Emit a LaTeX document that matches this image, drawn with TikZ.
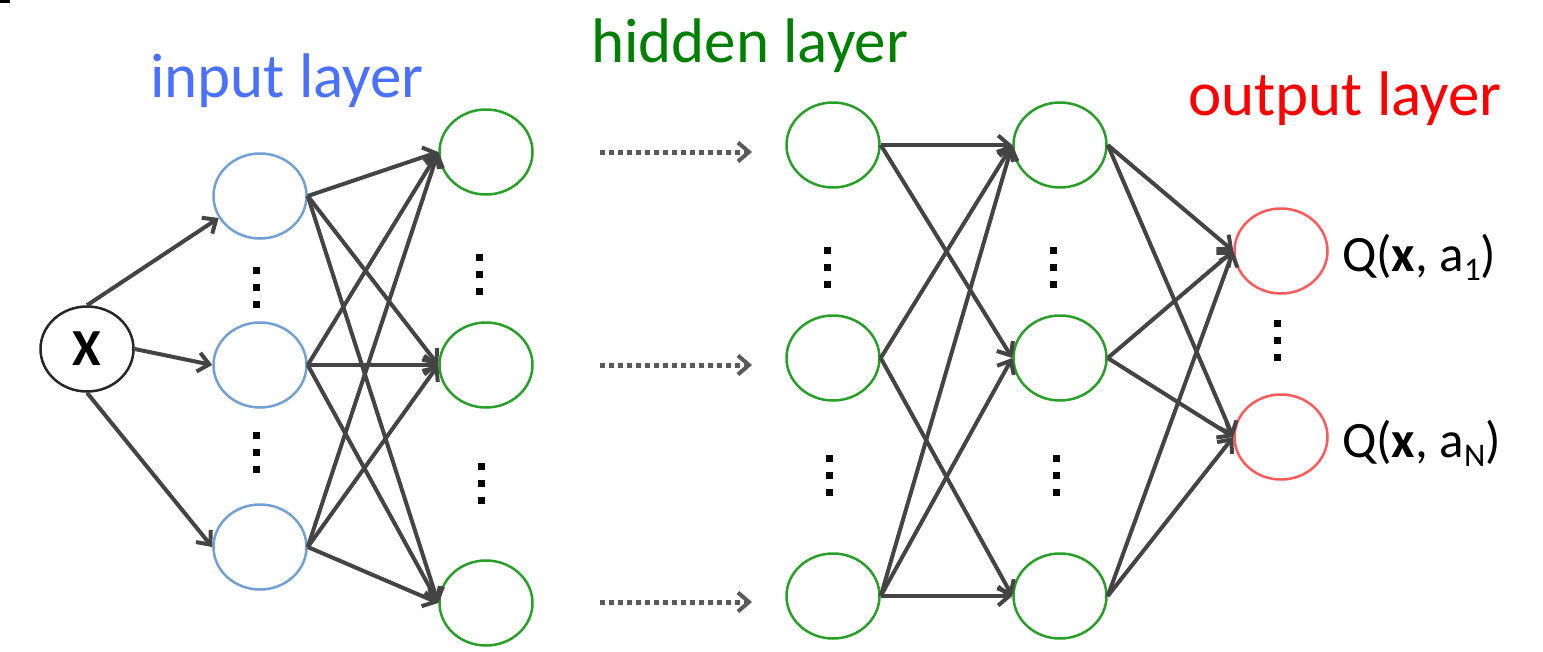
\documentclass[tikz,border=0pt]{standalone}
\usepackage{fontspec}
\setmainfont{Carlito}
\usetikzlibrary{shapes.geometric,arrows.meta}

\definecolor{inblue}{RGB}{112,160,214}
\definecolor{intext}{RGB}{74,112,255}
\definecolor{hidgreen}{RGB}{40,160,40}
\definecolor{hidtext}{RGB}{0,128,0}
\definecolor{outred}{RGB}{255,90,90}
\definecolor{outtext}{RGB}{255,0,0}
\definecolor{wire}{RGB}{68,68,68}
\definecolor{dotwire}{RGB}{90,90,90}

\tikzset{
  neuron/.style={ellipse, draw, line width=2.5pt, minimum width=93pt, minimum height=85pt, inner sep=0pt, fill=white},
  innode/.style={neuron, draw=inblue},
  hidnode/.style={neuron, draw=hidgreen},
  outnode/.style={neuron, draw=outred},
  xnode/.style={neuron, draw=black!85},
  link/.style={draw=wire, line width=4pt, -{Straight Barb[length=11pt,width=19pt]}},
  flow/.style={draw=dotwire, line width=5pt, dash pattern=on 4.5pt off 4.5pt,
               -{Straight Barb[length=11pt,width=19pt,line width=4pt]}},
  title/.style={anchor=base west, inner sep=0pt, font=\fontsize{63pt}{63pt}\selectfont},
  qlabel/.style={anchor=base west, inner sep=0pt, font=\fontsize{51pt}{51pt}\selectfont},
  vdot/.pic={\foreach \d in {-17,0,17} \fill[black] (-3.5,\d-3.5) rectangle (3.5,\d+3.5);}
}
\newcommand{\lowsub}[1]{\raisebox{-9pt}{\fontsize{33pt}{33pt}\selectfont #1}}

\begin{document}
\begin{tikzpicture}[x=1pt,y=-1pt]
\useasboundingbox[fill=white] (0,0) rectangle (1543,651);
\fill[black] (0,0) rectangle (10,3);

% layer titles
\node[title, text=intext]  (tin)  at (150,97)  {input layer};
\node[title, text=hidtext] (thid) at (591,62)  {hidden layer};
\node[title, text=outtext] (tout) at (1188,115) {output layer};

% input
\node[xnode] (X) at (87,349) {\fontsize{52pt}{52pt}\selectfont\textbf{X}};
\node[innode] (i1) at (260,196) {};
\node[innode] (i2) at (260,365) {};
\node[innode] (i3) at (260,547) {};

% first hidden layer
\node[hidnode] (a1) at (486,152) {};
\node[hidnode] (a2) at (486,365) {};
\node[hidnode] (a3) at (486,603) {};

% later hidden layers
\node[hidnode] (b1) at (833,145) {};
\node[hidnode] (b2) at (833,358) {};
\node[hidnode] (b3) at (833,596) {};
\node[hidnode] (c1) at (1060,145) {};
\node[hidnode] (c2) at (1060,358) {};
\node[hidnode] (c3) at (1060,596) {};

% output
\node[outnode] (o1) at (1281,251) {};
\node[outnode] (o2) at (1281,437) {};
\node[qlabel] (q1) at (1342,271) {Q(\textbf{x}, a\lowsub{1})};
\node[qlabel] (q2) at (1342,457) {Q(\textbf{x}, a\lowsub{N})};

% elided neurons
\pic at (256,287) {vdot};
\pic at (256,452) {vdot};
\pic at (479,274) {vdot};
\pic at (481,483) {vdot};
\pic at (827,267) {vdot};
\pic at (829,475) {vdot};
\pic at (1053,267) {vdot};
\pic at (1056,475) {vdot};
\pic at (1277,340) {vdot};

% input to first layer
\draw[link] (X.north) -- (i1.208);
\draw[link] (X.east) -- (i2.west);
\draw[link] (X.south) -- (i3.west);
\foreach \s in {i1,i2,i3}
  \foreach \t in {a1,a2,a3}
    \draw[link] (\s.east) -- (\t.west);

% skipped layers
\coordinate (d1s) at (600,152); \coordinate (d1e) at (752,152);
\coordinate (d2s) at (600,365); \coordinate (d2e) at (752,365);
\coordinate (d3s) at (600,602); \coordinate (d3e) at (752,602);
\draw[flow] (d1s) -- (d1e);
\draw[flow] (d2s) -- (d2e);
\draw[flow] (d3s) -- (d3e);

% between the last two hidden layers
\draw[link] (b1.east) -- (c1.west);
\draw[link] (b1.east) -- (c2.west);
\draw[link] (b2.east) -- (c1.west);
\draw[link] (b2.east) -- (c3.west);
\draw[link] (b3.east) -- (c1.west);
\draw[link] (b3.east) -- (c2.west);
\draw[link] (b3.east) -- (c3.west);

% to the outputs
\foreach \s in {c1,c2,c3}
  \foreach \t in {o1,o2}
    \draw[link] (\s.east) -- (\t.west);
\end{tikzpicture}
\end{document}
